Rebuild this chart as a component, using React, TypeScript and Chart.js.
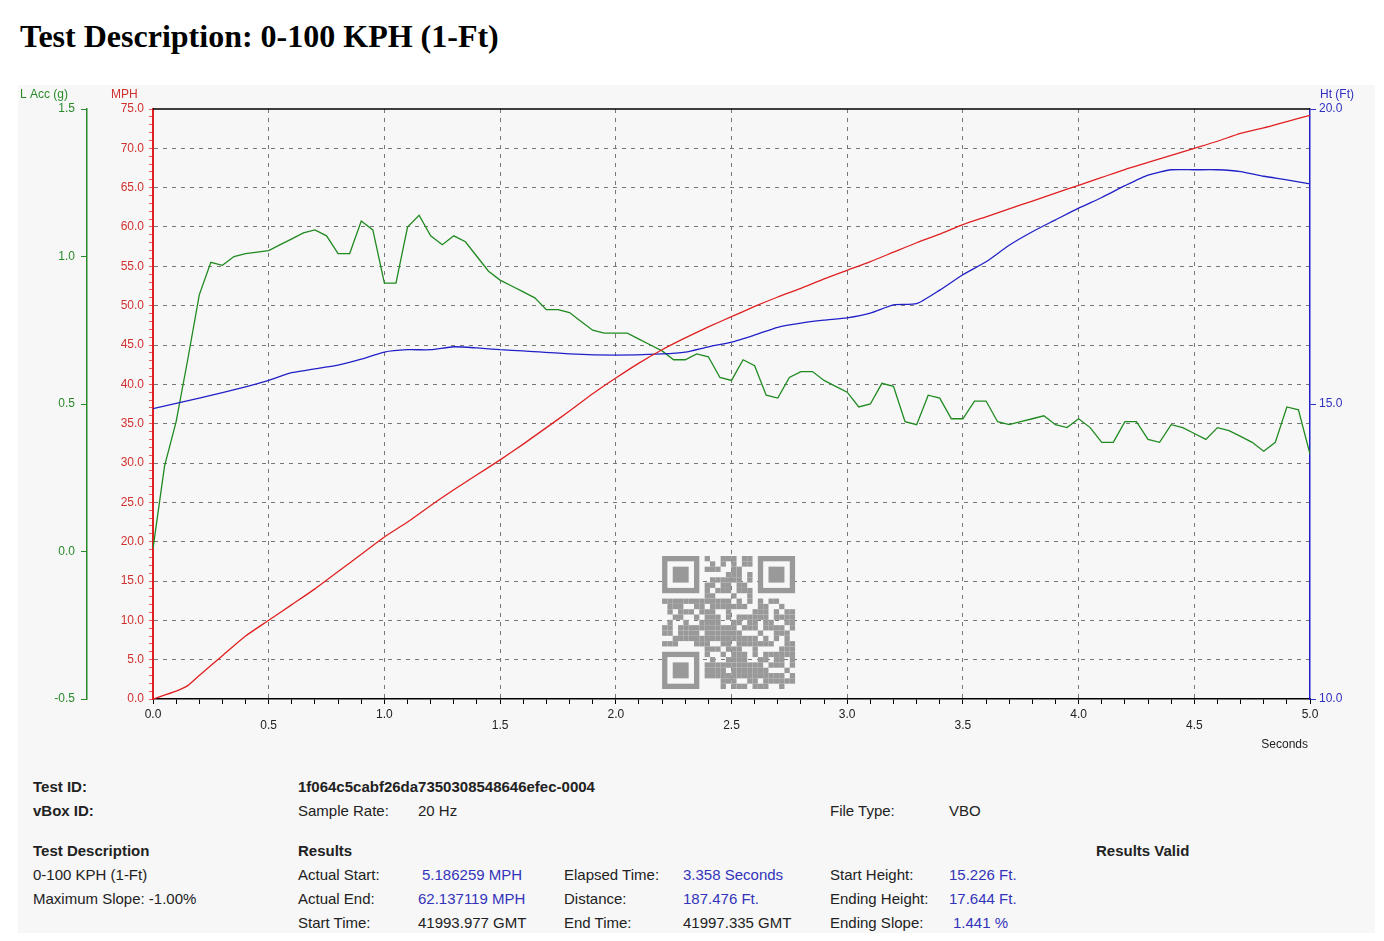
import React, { useEffect, useRef } from "react";
import { Chart, registerables } from "chart.js";
Chart.register(...registerables);

const speedTime = [0,0.1,0.15,0.2,0.3,0.4,0.5,0.6,0.7,0.8,0.9,1.0,1.1,1.2,1.3,1.4,1.5,1.6,1.7,1.8,1.9,2.0,2.1,2.2,2.3,2.4,2.5,2.6,2.7,2.8,2.9,3.0,3.1,3.2,3.3,3.4,3.5,3.6,3.7,3.8,3.9,4.0,4.1,4.2,4.3,4.4,4.5,4.6,4.7,4.8,4.9,5.0];
const speedMph = [0,1,1.7,3,5.5,8,10,12,14,16.2,18.4,20.6,22.5,24.6,26.6,28.5,30.4,32.4,34.5,36.6,38.8,40.8,42.7,44.4,45.9,47.3,48.6,49.9,51.1,52.2,53.4,54.5,55.6,56.8,58,59.1,60.3,61.3,62.3,63.3,64.3,65.3,66.3,67.3,68.2,69.1,70,70.9,71.9,72.6,73.4,74.2];

const heightTime = [0,0.2,0.4,0.5,0.6,0.8,0.9,1.0,1.1,1.2,1.3,1.4,1.5,1.6,1.8,2.0,2.2,2.3,2.4,2.5,2.6,2.7,2.8,2.9,3.0,3.1,3.2,3.3,3.4,3.5,3.6,3.7,3.8,3.9,4.0,4.1,4.2,4.3,4.4,4.5,4.6,4.7,4.8,4.9,5.0];
const heightFt = [14.92,15.1,15.29,15.4,15.53,15.66,15.76,15.88,15.92,15.92,15.97,15.95,15.92,15.9,15.85,15.83,15.85,15.88,15.97,16.05,16.17,16.3,16.37,16.42,16.46,16.54,16.68,16.7,16.93,17.19,17.41,17.69,17.92,18.12,18.32,18.5,18.7,18.88,18.97,18.97,18.97,18.94,18.86,18.8,18.73];

const accTime = [0,0.05,0.1,0.15,0.2,0.25,0.3,0.35,0.4,0.5,0.55,0.6,0.65,0.7,0.75,0.8,0.85,0.9,0.95,1.0,1.05,1.1,1.15,1.2,1.25,1.3,1.35,1.4,1.45,1.5,1.55,1.6,1.65,1.7,1.75,1.8,1.85,1.9,1.95,2.0,2.05,2.1,2.15,2.2,2.25,2.3,2.35,2.4,2.45,2.5,2.55,2.6,2.65,2.7,2.75,2.8,2.85,2.9,2.95,3.0,3.05,3.1,3.15,3.2,3.25,3.3,3.35,3.4,3.45,3.5,3.55,3.6,3.65,3.7,3.75,3.8,3.85,3.9,3.95,4.0,4.05,4.1,4.15,4.2,4.25,4.3,4.35,4.4,4.45,4.5,4.55,4.6,4.65,4.7,4.75,4.8,4.85,4.9,4.95,5.0];
const accG = [0.01,0.29,0.44,0.65,0.87,0.98,0.97,1.0,1.01,1.02,1.04,1.06,1.08,1.09,1.07,1.01,1.01,1.12,1.09,0.91,0.91,1.1,1.14,1.07,1.04,1.07,1.05,1.0,0.95,0.92,0.9,0.88,0.86,0.82,0.82,0.81,0.78,0.75,0.74,0.74,0.74,0.72,0.7,0.68,0.65,0.65,0.67,0.66,0.59,0.58,0.65,0.63,0.53,0.52,0.59,0.61,0.61,0.58,0.56,0.54,0.49,0.5,0.57,0.56,0.44,0.43,0.53,0.52,0.45,0.45,0.51,0.51,0.44,0.43,0.44,0.45,0.46,0.43,0.42,0.45,0.42,0.37,0.37,0.44,0.44,0.38,0.37,0.43,0.42,0.4,0.38,0.42,0.41,0.39,0.37,0.34,0.37,0.49,0.48,0.33];

const xLabels = ["0.0","0.5","1.0","1.5","2.0","2.5","3.0","3.5","4.0","4.5","5.0"];

const pts = (xs: number[], ys: number[]) => xs.map((x, i) => ({ x, y: ys[i] }));
const FONT = "'Liberation Sans', Arial, sans-serif";

const qrBits = "1f064c5cabf26da7350308548646efec0004a7c3e91b2d58f04e6a1c9b37d20f";

const overlay = {
  id: "overlay",
  afterDraw(chart: any) {
    const ctx = chart.ctx;
    const ca = chart.chartArea;
    const xs = chart.scales.x;
    ctx.save();
    ctx.strokeStyle = "#000"; ctx.lineWidth = 1.5;
    ctx.beginPath(); ctx.moveTo(ca.left, ca.top); ctx.lineTo(ca.right, ca.top); ctx.stroke();
    ctx.font = "12px " + FONT;
    ctx.textBaseline = "middle";
    ctx.fillStyle = "#222"; ctx.textAlign = "center";
    xLabels.forEach((l, i) => {
      const px = xs.getPixelForValue(parseFloat(l));
      ctx.fillText(l, px, ca.bottom + (i % 2 === 0 ? 16 : 27));
    });
    ctx.textAlign = "right";
    ctx.fillText("Seconds", ca.right - 2, ca.bottom + 46);
    ctx.textAlign = "left";
    ctx.fillStyle = "#2a8a2a"; ctx.fillText("L Acc (g)", 2, 10);
    ctx.fillStyle = "#d03030"; ctx.fillText("MPH", 93, 10);
    ctx.fillStyle = "#3030c0"; ctx.fillText("Ht (Ft)", ca.right + 10, 10);
    const qx = xs.getPixelForValue(2.2), qy = ca.top + 447, cell = 133 / 25;
    ctx.fillStyle = "#999";
    for (let r = 0; r < 25; r++) for (let c = 0; c < 25; c++) {
      const inFinder = (r < 8 && c < 8) || (r < 8 && c > 16) || (r > 16 && c < 8);
      if (inFinder) continue;
      const h = parseInt(qrBits[(r * 7 + c * 3) % qrBits.length], 16);
      if ((h + r + c) % 3 !== 0) ctx.fillRect(qx + c * cell, qy + r * cell, cell, cell);
    }
    const finder = (fx: number, fy: number) => {
      ctx.fillRect(qx + fx * cell, qy + fy * cell, 7 * cell, 7 * cell);
      ctx.fillStyle = "#f7f7f7"; ctx.fillRect(qx + (fx + 1) * cell, qy + (fy + 1) * cell, 5 * cell, 5 * cell);
      ctx.fillStyle = "#999"; ctx.fillRect(qx + (fx + 2) * cell, qy + (fy + 2) * cell, 3 * cell, 3 * cell);
    };
    finder(0, 0); finder(18, 0); finder(0, 18);
    ctx.restore();
  },
};

const near = (v: number, s: number) => Math.abs(v / s - Math.round(v / s)) < 1e-6;

export default function App() {
  const ref = useRef<HTMLCanvasElement>(null);
  useEffect(() => {
    const chart = new Chart(ref.current!, {
      type: "line",
      data: {
        datasets: [
          { label: "MPH", data: pts(speedTime, speedMph), yAxisID: "y", borderColor: "#e02020", borderWidth: 1.3, pointRadius: 0, tension: 0.2 },
          { label: "Ht", data: pts(heightTime, heightFt), yAxisID: "yH", borderColor: "#2020c8", borderWidth: 1.3, pointRadius: 0, tension: 0.2 },
          { label: "Acc", data: pts(accTime, accG), yAxisID: "yG", borderColor: "#1f8a1f", borderWidth: 1.3, pointRadius: 0 },
        ],
      },
      plugins: [overlay],
      options: {
        animation: false, responsive: false, maintainAspectRatio: false,
        layout: { padding: { top: 24 } },
        plugins: { legend: { display: false }, tooltip: { enabled: false } },
        scales: {
          x: {
            type: "linear", min: 0, max: 5,
            ticks: { stepSize: 0.1, display: false },
            grid: { color: (c: any) => (near(c.tick.value, 0.5) && c.tick.value > 0 && c.tick.value < 5 ? "#777" : "rgba(0,0,0,0)"), tickColor: "#000", tickLength: 5, lineWidth: 1 },
            border: { color: "#000", width: 1.5, dash: [4, 5] },
            afterFit: (s: any) => { s.height = 61; },
          },
          y: {
            position: "left", min: 0, max: 75, weight: 0,
            ticks: { stepSize: 1, autoSkip: false, color: "#d03030", font: { family: FONT, size: 12 }, padding: 5, callback: (v: any) => (near(v, 5) ? Number(v).toFixed(1) : "") },
            grid: { color: (c: any) => (near(c.tick.value, 5) && c.tick.value > 0 && c.tick.value < 75 ? "#777" : "rgba(0,0,0,0)"), tickColor: "#e06060", tickLength: 4 },
            border: { color: "#e02020", width: 2, dash: [4, 5] },
            afterFit: (s: any) => { s.width = 66; },
          },
          yG: {
            position: "left", min: -0.5, max: 1.5, weight: 1,
            ticks: { stepSize: 0.5, color: "#2a8a2a", font: { family: FONT, size: 12 }, padding: 6, callback: (v: any) => Number(v).toFixed(1) },
            grid: { drawOnChartArea: false, tickColor: "#2a8a2a", tickLength: 6 },
            border: { color: "#2a8a2a", width: 1.5 },
            afterFit: (s: any) => { s.width = 69; },
          },
          yH: {
            position: "right", min: 10, max: 20,
            ticks: { stepSize: 5, color: "#3030c0", font: { family: FONT, size: 12 }, padding: 3, callback: (v: any) => Number(v).toFixed(1) },
            grid: { drawOnChartArea: false, tickColor: "#3030c0", tickLength: 6 },
            border: { color: "#2020c8", width: 1.5 },
            afterFit: (s: any) => { s.width = 65; },
          },
        },
      } as any,
    });
    return () => chart.destroy();
  }, []);

  const cell = (x: number, y: number, t: string, opts: any = {}) => (
    <div style={{ position: "absolute", left: x - 8, top: y - 8 - 9, whiteSpace: "nowrap", lineHeight: "18px", ...opts }}>{t}</div>
  );
  const blue = { color: "#3333bb" };
  const bold = { fontWeight: "bold" };

  return (
    <div style={{ position: "relative", width: 1368, height: 925, fontFamily: FONT, fontSize: 15, color: "#222" }}>
      <div style={{ position: "absolute", left: 12, top: 10, fontFamily: "'Liberation Serif', serif", fontWeight: "bold", fontSize: 32, color: "#000", lineHeight: "36px", whiteSpace: "nowrap" }}>
        Test Description: 0-100 KPH (1-Ft)
      </div>
      <div style={{ position: "absolute", left: 10, top: 77, width: 1357, height: 856, background: "#f7f7f7" }} />
      <div style={{ position: "absolute", left: 10, top: 77, width: 1357, height: 675 }}>
        <canvas ref={ref} width={1357} height={675} style={{ width: 1357, height: 675 }} />
      </div>
      {cell(33, 787, "Test ID:", bold)}
      {cell(298, 787, "1f064c5cabf26da7350308548646efec-0004", bold)}
      {cell(33, 811, "vBox ID:", bold)}
      {cell(298, 811, "Sample Rate:")}
      {cell(418, 811, "20 Hz")}
      {cell(830, 811, "File Type:")}
      {cell(949, 811, "VBO")}
      {cell(33, 851, "Test Description", bold)}
      {cell(298, 851, "Results", bold)}
      {cell(1096, 851, "Results Valid", bold)}
      {cell(33, 875, "0-100 KPH (1-Ft)")}
      {cell(33, 899, "Maximum Slope:  -1.00%")}
      {cell(298, 875, "Actual Start:")}
      {cell(422, 875, "5.186259 MPH", blue)}
      {cell(298, 899, "Actual End:")}
      {cell(418, 899, "62.137119 MPH", blue)}
      {cell(298, 923, "Start Time:")}
      {cell(418, 923, "41993.977 GMT")}
      {cell(564, 875, "Elapsed Time:")}
      {cell(683, 875, "3.358 Seconds", blue)}
      {cell(564, 899, "Distance:")}
      {cell(683, 899, "187.476 Ft.", blue)}
      {cell(564, 923, "End Time:")}
      {cell(683, 923, "41997.335 GMT")}
      {cell(830, 875, "Start Height:")}
      {cell(949, 875, "15.226 Ft.", blue)}
      {cell(830, 899, "Ending Height:")}
      {cell(949, 899, "17.644 Ft.", blue)}
      {cell(830, 923, "Ending Slope:")}
      {cell(953, 923, "1.441 %", blue)}
    </div>
  );
}
